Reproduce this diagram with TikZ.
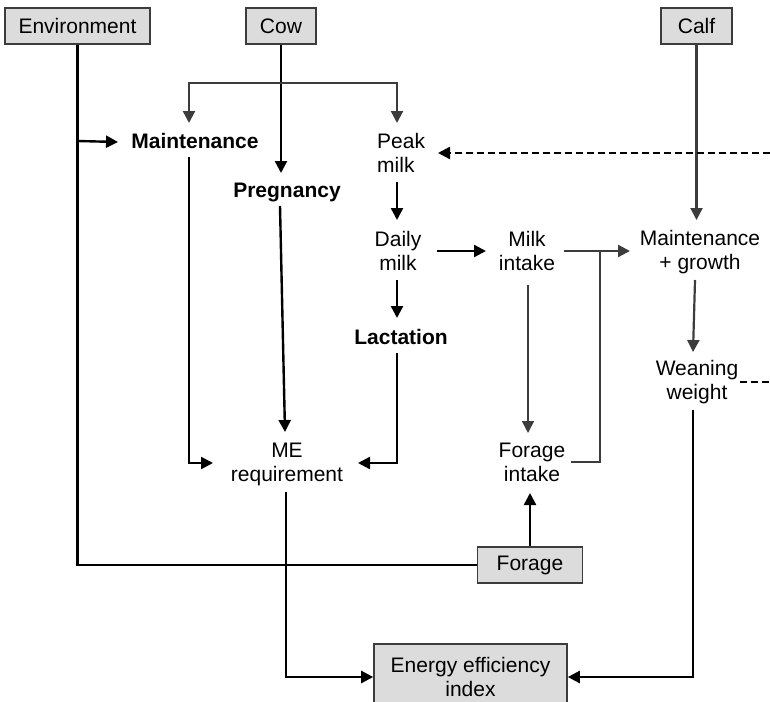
\documentclass[tikz,border=0pt]{standalone}
\usepackage{fontspec}
\setmainfont{Liberation Sans}
\usetikzlibrary{arrows.meta,calc}
\definecolor{boxfill}{RGB}{220,220,220}
\definecolor{dgray}{RGB}{60,60,60}
\begin{document}
\begin{tikzpicture}[x=1pt,y=-1pt,
  txt/.style={font=\fontsize{21}{24}\selectfont, inner sep=0pt, align=center},
  bold/.style={font=\fontsize{21}{24}\selectfont\bfseries, inner sep=0pt, align=center},
  box/.style={txt, draw=dgray, line width=1.6pt, fill=boxfill, minimum height=36pt},
  tip/.style={-{Triangle[length=12pt,width=12pt]}},
  blk/.style={draw=black, line width=2.4pt},
  gry/.style={draw=dgray, line width=2.2pt},
  thn/.style={draw=dgray, line width=1.6pt},
  dsh/.style={draw=black, line width=2.4pt, dash pattern=on 7pt off 4pt}]
\useasboundingbox (0,0) rectangle (770,701);
% boxes
\node[box, minimum width=145pt] (env) at (77.5,26) {Environment};
\node[box, minimum width=70pt] (cow) at (281,26) {Cow};
\node[box, minimum width=71pt] (calf) at (696.5,26) {Calf};
\node[box, minimum width=105pt] (forage) at (530,565) {Forage};
\node[box, minimum width=193pt, minimum height=66pt] (eei) at (470.5,677) {Energy efficiency\\index};
% labels
\node[bold] (maint) at (195,141) {Maintenance};
\node[bold] (preg) at (287,192) {Pregnancy};
\node[txt, align=left, anchor=west] (peak) at (377,153) {Peak\\milk};
\node[txt] (daily) at (398,251) {Daily\\milk};
\node[txt] (milkin) at (527,251) {Milk\\intake};
\node[txt] (mg) at (700,252) {Maintenance\\+ growth};
\node[bold] (lact) at (401,337) {Lactation};
\node[txt] (me) at (287,464) {ME\\requirement};
\node[txt] (fi) at (532,462) {Forage\\intake};
\node[txt] (ww) at (697,382) {Weaning\\weight};
% connector end points near nodes
\coordinate (split) at (cow.south |- 0,83);
\coordinate (maintIn) at (189,123);
\coordinate (peakIn) at (397,123);
\coordinate (envMaint) at (env.south |- maint.west);
\coordinate (maintTip) at (118,142);
\coordinate (pregIn) at (cow.south |- 0,173);
\coordinate (maintOut) at (189,157);
\coordinate (meInL) at (213,463);
\coordinate (pregOut) at (280,206);
\coordinate (meInT) at (285,432);
\coordinate (peakOut) at (397,182);
\coordinate (dailyIn) at (397,220);
\coordinate (dailyOut) at (397,280);
\coordinate (lactIn) at (397,318);
\coordinate (lactOut) at (397,353);
\coordinate (meInR) at (358,463);
\coordinate (dailyR) at (437,251);
\coordinate (milkL) at (486,251);
\coordinate (milkR) at (564,251);
\coordinate (mgL) at (630,251);
\coordinate (fiR) at (571,462);
\coordinate (join) at (600,251);
\coordinate (milkB) at (528,285);
\coordinate (fiT) at (528,433);
\coordinate (fiB) at (forage.north |- 0,493);
\coordinate (mgT) at (calf.south |- 0,220);
\coordinate (mgB) at (695,280);
\coordinate (wwT) at (693,352);
\coordinate (wwB) at (693,410);
\coordinate (meB) at (286,492);
\coordinate (wwR) at (740,382);
\coordinate (edgeL) at (770,382);
\coordinate (edgeU) at (770,153);
\coordinate (peakR) at (438,153);
% connectors
\draw[blk] (env.south) |- (forage.west);
\draw[blk,tip] (envMaint) -- (maintTip);
\draw[blk,tip] (cow.south) -- (pregIn);
\draw[gry,tip] (split) -| (maintIn);
\draw[gry,tip] (split) -| (peakIn);
\draw[blk,tip] (maintOut) |- (meInL);
\draw[blk,tip] (pregOut) -- (meInT);
\draw[blk,tip] (peakOut) -- (dailyIn);
\draw[blk,tip] (dailyOut) -- (lactIn);
\draw[blk,tip] (lactOut) |- (meInR);
\draw[blk,tip] (dailyR) -- (milkL);
\draw[gry,tip] (milkR) -- (mgL);
\draw[gry] (fiR) -| (join);
\draw[thn,tip] (milkB) -- (fiT);
\draw[blk,tip] (forage.north) -- (fiB);
\draw[gry,tip] (calf.south) -- (mgT);
\draw[gry,tip] (mgB) -- (wwT);
\draw[blk,tip] (wwB) |- (eei.east);
\draw[blk,tip] (meB) |- (eei.west);
\draw[dsh] (wwR) -- (edgeL);
\draw[dsh,tip] (edgeU) -- (peakR);
\end{tikzpicture}
\end{document}
